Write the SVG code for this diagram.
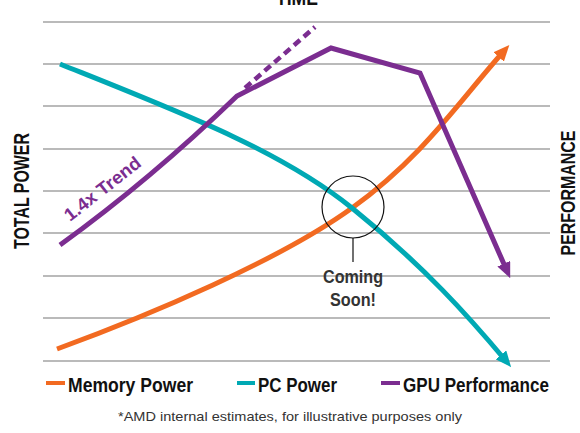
<svg xmlns="http://www.w3.org/2000/svg" width="580" height="433" viewBox="0 0 580 433">
<style>
.grid{stroke:#a3a3a3;stroke-width:1.5}
.lbl{font-family:"Liberation Sans",Arial,sans-serif;font-weight:bold;fill:#111}
.leg{font-family:"Liberation Sans",Arial,sans-serif;font-weight:bold;font-size:20px;fill:#111}
.cur{fill:none;stroke-width:5}
</style>
<defs>
<marker id="aO" markerUnits="userSpaceOnUse" markerWidth="16" markerHeight="14" viewBox="0 0 16 14" refX="8" refY="7" orient="auto"><path d="M0,0 L16,7 L0,14 z" fill="#f26a21"/></marker>
<marker id="aT" markerUnits="userSpaceOnUse" markerWidth="16" markerHeight="14" viewBox="0 0 16 14" refX="8" refY="7" orient="auto"><path d="M0,0 L16,7 L0,14 z" fill="#00a9b4"/></marker>
<marker id="aP" markerUnits="userSpaceOnUse" markerWidth="16" markerHeight="14" viewBox="0 0 16 14" refX="8" refY="7" orient="auto"><path d="M0,0 L16,7 L0,14 z" fill="#7b2d90"/></marker>
</defs>
<rect width="580" height="433" fill="#fff"/>
<g id="grid">
<line class="grid" x1="43" y1="22" x2="550" y2="22"/>
<line class="grid" x1="43" y1="64" x2="550" y2="64"/>
<line class="grid" x1="43" y1="106" x2="550" y2="106"/>
<line class="grid" x1="43" y1="149" x2="550" y2="149"/>
<line class="grid" x1="43" y1="191" x2="550" y2="191"/>
<line class="grid" x1="43" y1="233" x2="550" y2="233"/>
<line class="grid" x1="43" y1="276" x2="550" y2="276"/>
<line class="grid" x1="43" y1="318" x2="550" y2="318"/>
<line class="grid" x1="43" y1="361" x2="550" y2="361"/>
</g>
<g id="axes">
<text class="lbl" x="297" y="5" font-size="22" text-anchor="middle" textLength="42" lengthAdjust="spacingAndGlyphs">TIME</text>
<text class="lbl" font-size="22" text-anchor="middle" transform="translate(29,191) rotate(-90)" textLength="116" lengthAdjust="spacingAndGlyphs">TOTAL POWER</text>
<text class="lbl" font-size="21" text-anchor="middle" transform="translate(575,193) rotate(-90)" textLength="125" lengthAdjust="spacingAndGlyphs">PERFORMANCE</text>
</g>
<g id="connectors">
<path id="memory-power" class="cur" stroke="#f26a21" d="M57,349 C150,315 280,260 352,208 S460,100 504,51" marker-end="url(#aO)"/>
<path id="pc-power" class="cur" stroke="#00a9b4" d="M60,64 C180,112 280,150 352,208 S470,318 506,361" marker-end="url(#aT)"/>
<path id="gpu-performance" class="cur" stroke="#7b2d90" stroke-linejoin="miter" d="M60,245 Q150,180 237,96 L331,48 L420,73 L507,271" marker-end="url(#aP)"/>
<line id="trend-dashed" x1="245" y1="88" x2="315" y2="27" stroke="#7b2d90" stroke-width="4.5" stroke-dasharray="8,5"/>
</g>
<g id="trend-label">
<text font-family="Liberation Sans,Arial,sans-serif" font-weight="bold" font-size="18" fill="#7b2d90" transform="translate(70,222) rotate(-38)" textLength="92" lengthAdjust="spacingAndGlyphs">1.4x Trend</text>
</g>
<g id="coming-soon">
<circle cx="353" cy="207" r="31" fill="none" stroke="#111" stroke-width="1.2"/>
<line x1="353" y1="238" x2="353" y2="262" stroke="#111" stroke-width="1.2"/>
<text class="lbl" font-size="19" x="353" y="283" text-anchor="middle" textLength="60" lengthAdjust="spacingAndGlyphs" style="fill:#333">Coming</text>
<text class="lbl" font-size="19" x="353" y="306" text-anchor="middle" textLength="46" lengthAdjust="spacingAndGlyphs" style="fill:#333">Soon!</text>
</g>
<g id="legend">
<line x1="46" y1="383" x2="65" y2="383" stroke="#f26a21" stroke-width="4"/>
<text class="leg" x="68" y="392" textLength="125" lengthAdjust="spacingAndGlyphs">Memory Power</text>
<line x1="237" y1="383" x2="255" y2="383" stroke="#00a9b4" stroke-width="4"/>
<text class="leg" x="258" y="392" textLength="79" lengthAdjust="spacingAndGlyphs">PC Power</text>
<line x1="381" y1="383" x2="400" y2="383" stroke="#7b2d90" stroke-width="4"/>
<text class="leg" x="403" y="392" textLength="146" lengthAdjust="spacingAndGlyphs">GPU Performance</text>
</g>
<g id="footnote">
<text x="290" y="421" font-family="Liberation Sans,Arial,sans-serif" font-size="13" fill="#333" text-anchor="middle" textLength="344" lengthAdjust="spacingAndGlyphs">*AMD internal estimates, for illustrative purposes only</text>
</g>
</svg>
